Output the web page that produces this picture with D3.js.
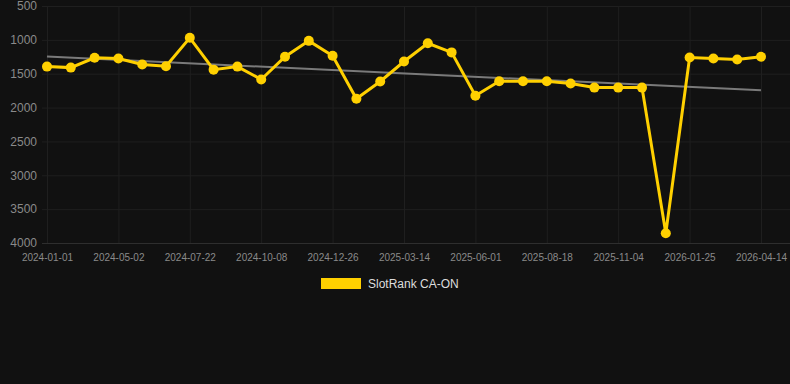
<!DOCTYPE html>
<html>
<head>
<meta charset="utf-8">
<script src="https://cdn.jsdelivr.net/npm/d3@7"></script>
<style>
  body { margin: 0; background: #111111; }
  svg { display: block; font-family: "Liberation Sans", Arial, sans-serif; }
</style>
</head>
<body>
<div id="chart"></div>
<script>
// category dates (every third one is labelled on the axis)
var dates = [
    "2024-01-01", "2024-02-10", "2024-03-22", "2024-05-02", "2024-05-29", "2024-06-25",
    "2024-07-22", "2024-08-17", "2024-09-12", "2024-10-08", "2024-11-03", "2024-11-29",
    "2024-12-26", "2025-01-21", "2025-02-16", "2025-03-14", "2025-04-09", "2025-05-06",
    "2025-06-01", "2025-06-27", "2025-07-23", "2025-08-18", "2025-09-13", "2025-10-09",
    "2025-11-04", "2025-12-01", "2025-12-28", "2026-01-25", "2026-02-20", "2026-03-18",
    "2026-04-14"
];

// slot rank values (lower is better, axis reversed)
var ranks = [
    1395, 1410, 1265, 1275, 1365, 1390,
    970, 1440, 1395, 1585, 1250, 1015,
    1235, 1870, 1615, 1320, 1050, 1185,
    1825, 1610, 1610, 1610, 1645, 1705,
    1705, 1705, 3855, 1260, 1275, 1290,
    1250
];

var yTicks = [500, 1000, 1500, 2000, 2500, 3000, 3500, 4000];
var seriesName = "SlotRank CA-ON";

var width = 790,
    height = 384,
    plotLeft = 42,
    plotRight = 790,
    plotTop = 6,
    plotBottom = 243;

var svg = d3.select("#chart")
    .append("svg")
    .attr("width", width)
    .attr("height", height);

svg.append("rect")
    .attr("width", width)
    .attr("height", height)
    .attr("fill", "#111111");

var x = d3.scalePoint()
    .domain(dates)
    .range([47, 761]);

var y = d3.scaleLinear()
    .domain([500, 4000])
    .range([plotTop, plotBottom]);

// horizontal grid + y labels
var yAxis = d3.axisLeft(y)
    .tickValues(yTicks)
    .tickFormat(d3.format("d"))
    .tickSize(-(plotRight - plotLeft))
    .tickPadding(5);

var gy = svg.append("g")
    .attr("transform", "translate(" + plotLeft + ",0)")
    .call(yAxis);
gy.select(".domain").remove();
gy.selectAll(".tick line")
    .attr("stroke", function(d) { return d == 4000 ? "#2e2e2e" : "#1f1f1f"; })
    .attr("stroke-width", 1);
gy.selectAll(".tick text")
    .attr("fill", "#8a8a8a")
    .style("font-size", "12px");

// vertical grid + x labels
var labelled = dates.filter(function(d, i) { return i % 3 == 0; });
var xAxis = d3.axisBottom(x)
    .tickValues(labelled)
    .tickSize(-(plotBottom - plotTop))
    .tickPadding(11);

var gx = svg.append("g")
    .attr("transform", "translate(0," + plotBottom + ")")
    .call(xAxis);
gx.select(".domain").remove();
gx.selectAll(".tick line")
    .attr("stroke", "#1f1f1f");
gx.selectAll(".tick text")
    .attr("fill", "#8a8a8a")
    .style("font-size", "10px");

// trend line (least squares over the category index)
var n = ranks.length,
    sx = 0, sy = 0, sxy = 0, sxx = 0;
ranks.forEach(function(v, i) {
    sx += i; sy += v; sxy += i * v; sxx += i * i;
});
var slope = (n * sxy - sx * sy) / (n * sxx - sx * sx),
    intercept = (sy - slope * sx) / n;

svg.append("line")
    .attr("x1", x(dates[0]))
    .attr("y1", y(intercept))
    .attr("x2", x(dates[n - 1]))
    .attr("y2", y(intercept + slope * (n - 1)))
    .attr("stroke", "#7a7a7a")
    .attr("stroke-width", 2);

// series line
var line = d3.line()
    .x(function(d, i) { return x(dates[i]); })
    .y(function(d) { return y(d); });

svg.append("path")
    .datum(ranks)
    .attr("d", line)
    .attr("fill", "none")
    .attr("stroke", "#ffd000")
    .attr("stroke-width", 3)
    .attr("stroke-linejoin", "miter");

svg.selectAll(".dot")
    .data(ranks)
    .enter().append("circle")
    .attr("class", "dot")
    .attr("cx", function(d, i) { return x(dates[i]); })
    .attr("cy", function(d) { return y(d); })
    .attr("r", 5)
    .attr("fill", "#ffd000");

// legend
var legend = svg.append("g")
    .attr("transform", "translate(321,278)");
legend.append("rect")
    .attr("width", 40)
    .attr("height", 11)
    .attr("fill", "#ffd000");
legend.append("text")
    .attr("x", 47)
    .attr("y", 10)
    .attr("fill", "#dddddd")
    .style("font-size", "12px")
    .text(seriesName);
</script>
</body>
</html>
